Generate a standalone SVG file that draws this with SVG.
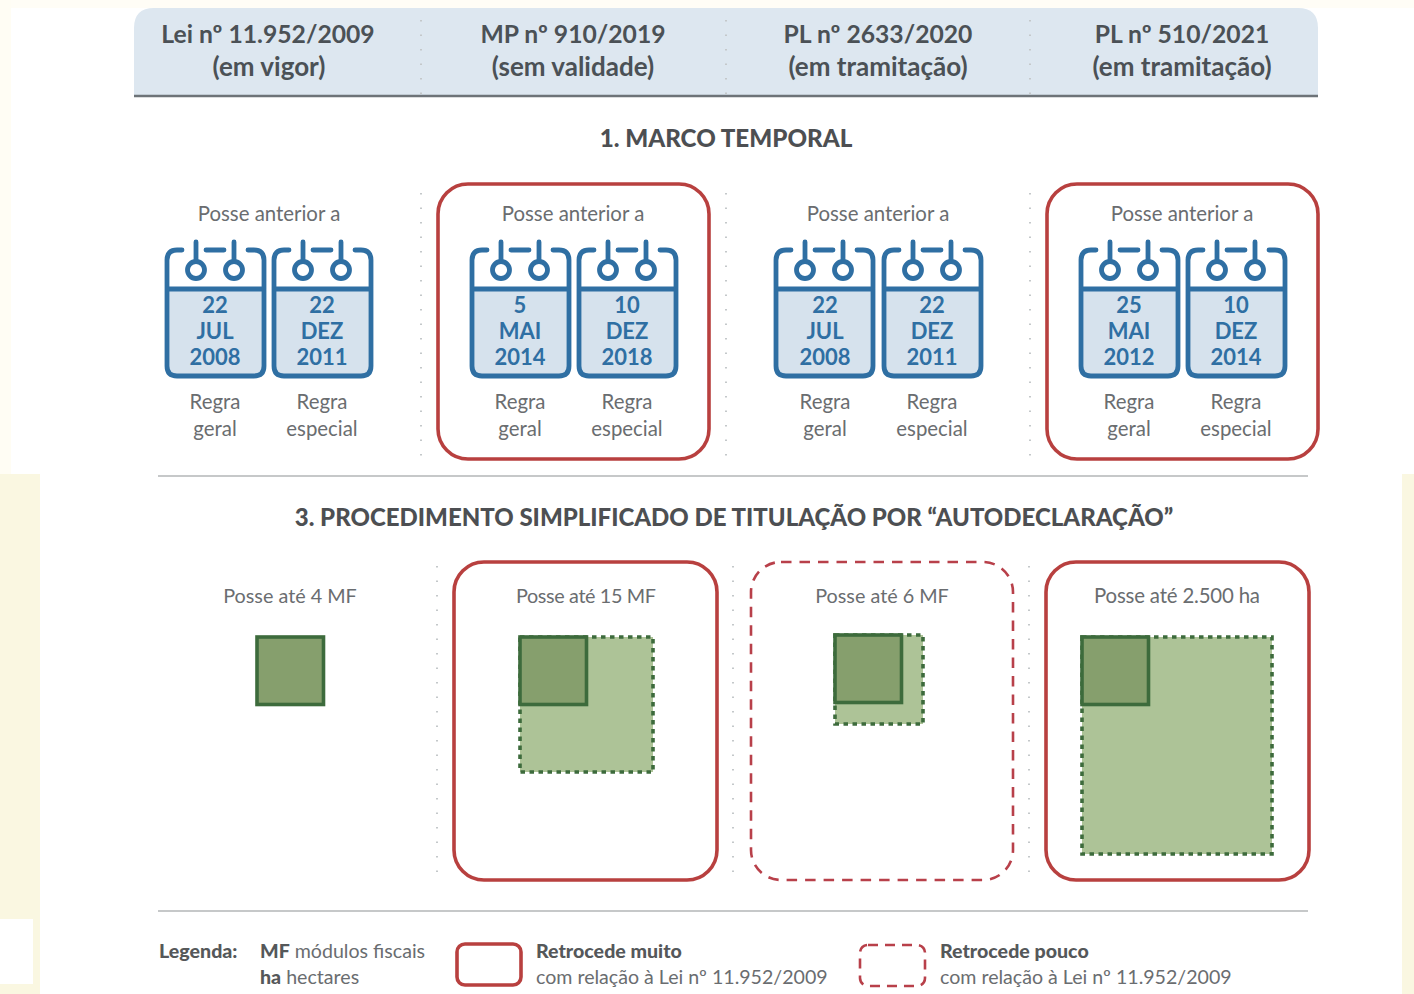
<svg xmlns="http://www.w3.org/2000/svg" xmlns:xlink="http://www.w3.org/1999/xlink" width="1414" height="994" viewBox="0 0 1414 994">
<style>
text{font-family:"Lato","Open Sans","Liberation Sans",sans-serif;text-anchor:middle}
.h{font-size:24.7px;font-weight:700;fill:#4b5156}
.h2{font-size:26px;font-weight:700;fill:#4b5156}
.t{font-size:24px;font-weight:900;fill:#4d4f52}
.b{font-size:20.4px;fill:#6a6d70}
.p{font-size:19.8px;fill:#6a6d70}
.d{font-size:22px;font-weight:700;fill:#2f6fa3}
.l{font-size:19.6px;fill:#6a6d70;text-anchor:start}
.lb{font-weight:900;fill:#55585a}
.dots{stroke:#c4c8ca;stroke-width:2;stroke-dasharray:1.5 13;fill:none}
.rule{stroke:#c6c8c9;stroke-width:2}
.red{fill:#fff;stroke:#b8403f;stroke-width:3.6}
.dash{fill:#fff;stroke:#b8404a;stroke-width:2.6;stroke-dasharray:10.5 8}
.cal{fill:none;stroke:#2f6fa3;stroke-width:4.8;stroke-linecap:round}
.in{fill:#869f6d;stroke:#3d6b3c;stroke-width:3.6}
.out{fill:#adc397;stroke:#3d6b3c;stroke-width:3.6;stroke-dasharray:4.5 4.5}
</style>
<defs>
<g id="cal">
<path d="M1 48H98V125Q98 135 88 135H11Q1 135 1 125Z" fill="#d6e2ed"/>
<path class="cal" d="M16 9H11Q1 9 1 19V125Q1 135 11 135H88Q98 135 98 125V19Q98 9 88 9H82M40 9H58M1 48H98M30 1V20M68 1V20"/>
<circle class="cal" cx="30" cy="29" r="8.5"/><circle class="cal" cx="68" cy="29" r="8.5"/>
</g>
</defs>
<rect width="1414" height="994" fill="#fff"/>
<g id="margins">
<rect width="1414" height="8" fill="#fffdf6"/>
<rect width="11" height="474" fill="#fffdf4"/>
<rect y="474" width="40" height="520" fill="#faf7e1"/>
<rect x="1402" y="474" width="12" height="520" fill="#faf7e1"/>
<rect y="919" width="33" height="65" fill="#fff"/>
</g>
<g id="header">
<path d="M134 96V28Q134 8 154 8H1298Q1318 8 1318 28V96Z" fill="#dde7f0"/>
<path d="M134 96H1318" stroke="#6d7378" stroke-width="2.5"/>
<text class="h" x="268" y="43">Lei nº 11.952/2009</text><text class="h2" x="269" y="76">(em vigor)</text>
<text class="h" x="573" y="43">MP nº 910/2019</text><text class="h2" x="573" y="76">(sem validade)</text>
<text class="h" x="878" y="43">PL nº 2633/2020</text><text class="h2" x="878" y="76">(em tramitação)</text>
<text class="h" x="1182" y="43">PL nº 510/2021</text><text class="h2" x="1182" y="76">(em tramitação)</text>
<path class="dots" d="M421 20V96M726 20V96M1030 20V96"/>
</g>
<text id="title1" class="t" x="726" y="147" style="font-size:24.2px">1. MARCO TEMPORAL</text>
<g id="connectors">
<path class="dots" d="M421 193V460M726 193V460M1030 193V460M437 566V880M733 566V880M1029 566V880"/>
<path class="rule" d="M158 476H1308M158 911H1308"/>
</g>
<g id="col1">
<text class="b" x="269" y="221">Posse anterior a</text>
<use xlink:href="#cal" x="166" y="241"/><use xlink:href="#cal" x="273" y="241"/>
<text class="d" x="215" y="313">22</text><text class="d" x="215" y="339">JUL</text><text class="d" x="215" y="365">2008</text>
<text class="d" x="322" y="313">22</text><text class="d" x="322" y="339">DEZ</text><text class="d" x="322" y="365">2011</text>
<text class="b" x="215" y="409">Regra</text><text class="b" x="215" y="436">geral</text>
<text class="b" x="322" y="409">Regra</text><text class="b" x="322" y="436">especial</text>
</g>
<g id="col2">
<rect class="red" x="438" y="184" width="271" height="275" rx="30"/>
<text class="b" x="573" y="221">Posse anterior a</text>
<use xlink:href="#cal" x="471" y="241"/><use xlink:href="#cal" x="578" y="241"/>
<text class="d" x="520" y="313">5</text><text class="d" x="520" y="339">MAI</text><text class="d" x="520" y="365">2014</text>
<text class="d" x="627" y="313">10</text><text class="d" x="627" y="339">DEZ</text><text class="d" x="627" y="365">2018</text>
<text class="b" x="520" y="409">Regra</text><text class="b" x="520" y="436">geral</text>
<text class="b" x="627" y="409">Regra</text><text class="b" x="627" y="436">especial</text>
</g>
<g id="col3">
<text class="b" x="878" y="221">Posse anterior a</text>
<use xlink:href="#cal" x="775" y="241"/><use xlink:href="#cal" x="883" y="241"/>
<text class="d" x="825" y="313">22</text><text class="d" x="825" y="339">JUL</text><text class="d" x="825" y="365">2008</text>
<text class="d" x="932" y="313">22</text><text class="d" x="932" y="339">DEZ</text><text class="d" x="932" y="365">2011</text>
<text class="b" x="825" y="409">Regra</text><text class="b" x="825" y="436">geral</text>
<text class="b" x="932" y="409">Regra</text><text class="b" x="932" y="436">especial</text>
</g>
<g id="col4">
<rect class="red" x="1047" y="184" width="271" height="275" rx="30"/>
<text class="b" x="1182" y="221">Posse anterior a</text>
<use xlink:href="#cal" x="1080" y="241"/><use xlink:href="#cal" x="1187" y="241"/>
<text class="d" x="1129" y="313">25</text><text class="d" x="1129" y="339">MAI</text><text class="d" x="1129" y="365">2012</text>
<text class="d" x="1236" y="313">10</text><text class="d" x="1236" y="339">DEZ</text><text class="d" x="1236" y="365">2014</text>
<text class="b" x="1129" y="409">Regra</text><text class="b" x="1129" y="436">geral</text>
<text class="b" x="1236" y="409">Regra</text><text class="b" x="1236" y="436">especial</text>
</g>
<text id="title3" class="t" x="734" y="526">3. PROCEDIMENTO SIMPLIFICADO DE TITULAÇÃO POR “AUTODECLARAÇÃO”</text>
<g id="area1">
<text class="p" x="290" y="603">Posse até 4 MF</text>
<rect class="in" x="257" y="637" width="66.500" height="67.500"/>
</g>
<g id="area2">
<rect class="red" x="454" y="562" width="263" height="318" rx="30"/>
<text class="p" x="586" y="603" textLength="140">Posse até 15 MF</text>
<rect class="out" x="520" y="637" width="133" height="135"/>
<rect class="in" x="520" y="637" width="66.500" height="67.500"/>
</g>
<g id="area3">
<rect class="dash" x="751" y="562" width="262" height="318" rx="30"/>
<text class="p" x="882" y="603">Posse até 6 MF</text>
<rect class="out" x="835" y="635" width="88" height="89"/>
<rect class="in" x="835" y="635" width="66.500" height="67.500"/>
</g>
<g id="area4">
<rect class="red" x="1046" y="562" width="263" height="318" rx="30"/>
<text class="b" x="1177" y="603" textLength="166">Posse até 2.500 ha</text>
<rect class="out" x="1082" y="637" width="190" height="217"/>
<rect class="in" x="1082" y="637" width="66.500" height="67.500"/>
</g>
<g id="legend">
<text class="l lb" x="159" y="958">Legenda:</text>
<text class="l" x="260" y="958"><tspan class="lb">MF</tspan> módulos fiscais</text>
<text class="l" x="260" y="984"><tspan class="lb">ha</tspan> hectares</text>
<rect class="red" x="457" y="944" width="64" height="41" rx="8"/>
<text class="l lb" x="536" y="958">Retrocede muito</text>
<text class="l" x="536" y="984">com relação à Lei nº 11.952/2009</text>
<rect x="860" y="945" width="65" height="41" rx="8" fill="#fff" stroke="#b8404a" stroke-width="2.6" stroke-dasharray="10 7"/>
<text class="l lb" x="940" y="958">Retrocede pouco</text>
<text class="l" x="940" y="984">com relação à Lei nº 11.952/2009</text>
</g>
</svg>
